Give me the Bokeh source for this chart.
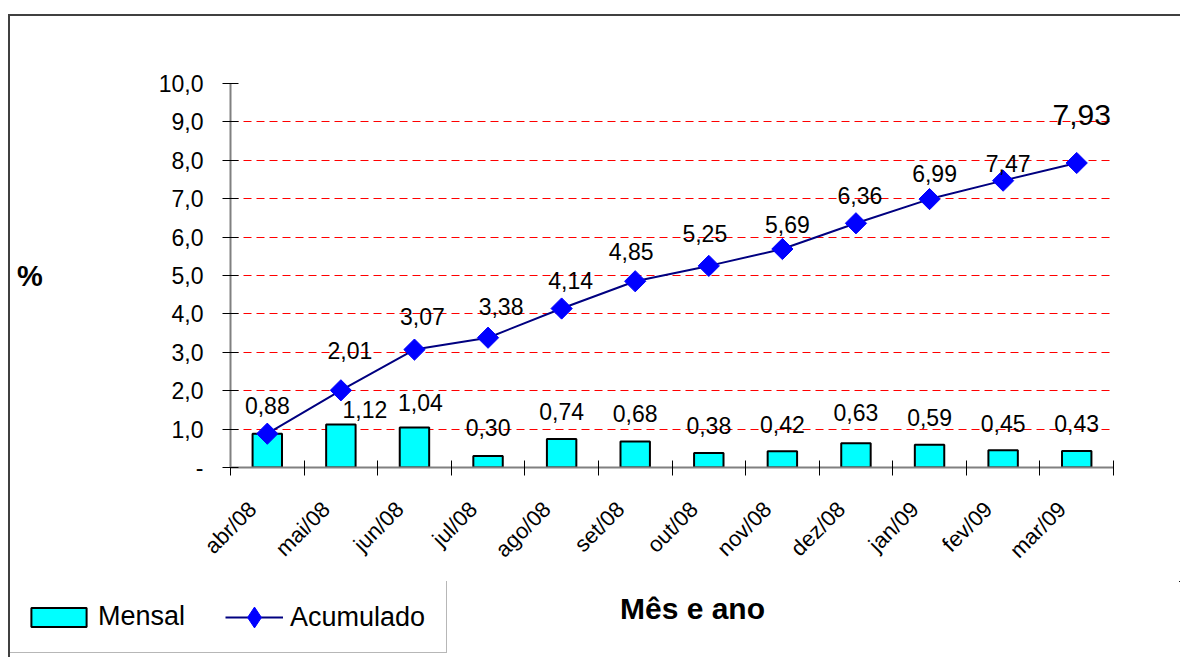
import math
from bokeh.plotting import figure
from bokeh.layouts import column
from bokeh.models import (FixedTicker, CustomJSTickFormatter, Legend,
                          LegendItem, Range1d, ColumnDataSource, Label)
from bokeh.core.properties import value
from bokeh.embed import file_html
from bokeh.resources import INLINE

# ---------------- data ----------------
months = ["abr/08", "mai/08", "jun/08", "jul/08", "ago/08", "set/08",
          "out/08", "nov/08", "dez/08", "jan/09", "fev/09", "mar/09"]
mensal = [0.88, 1.12, 1.04, 0.30, 0.74, 0.68, 0.38, 0.42, 0.63, 0.59, 0.45, 0.43]
acumulado = [0.88, 2.01, 3.07, 3.38, 4.14, 4.85, 5.25, 5.69, 6.36, 6.99, 7.47, 7.93]
y_ticks = [0, 1, 2, 3, 4, 5, 6, 7, 8, 9, 10]

# ---------------- label placement (style) ----------------
bar_lab_dx = [0, 24, 6, 0, 0, 0, 0, 0, 0, 0, 0, 0]
bar_lab_dy = [-28, -15, -25, -28, -28, -28, -27, -27, -31, -27, -27, -27]
acu_lab_dx = [0, 9, 8, 13, 9, -4, -4, 5, 4, 5, 5, 5]
acu_lab_dy = [-28, -40, -33, -31, -28, -30, -32, -25, -28, -26, -17, -48]
acu_lab_size = ["23px"] * 11 + ["30px"]
XLABEL_SHIFT = -0.2   # category-label anchor shift (in category widths)

FONT = "Liberation Sans"
BAR_STYLE = dict(width=0.4, bottom=0, fill_color="#00FFFF", line_color="black", line_width=2)
LINE_STYLE = dict(line_color="#000080", line_width=2)
MARK_STYLE = dict(fill_color="#0000FF", line_color="#0000FF")

def fmt(v):
    return f"{v:.2f}".replace(".", ",")

def no_frame_align(fig):
    if "frame_align" in fig.properties():
        fig.frame_align = False

xc = [i + 0.5 for i in range(len(months))]

# ---------------- main chart ----------------
p = figure(width=1170, height=565,
           x_range=Range1d(0, len(months)), y_range=Range1d(y_ticks[0], y_ticks[-1]),
           output_backend="svg", toolbar_location=None,
           min_border_left=220, min_border_right=67,
           min_border_top=67, min_border_bottom=114,
           background_fill_color="white", border_fill_color="white",
           outline_line_color=None)
no_frame_align(p)

p.xgrid.visible = False
p.ygrid.ticker = FixedTicker(ticks=y_ticks[1:])
p.ygrid.grid_line_color = "#FF0000"
p.ygrid.grid_line_dash = "8 5"
p.ygrid.grid_line_width = 1

yax = p.yaxis[0]
yax.ticker = FixedTicker(ticks=y_ticks)
yax.formatter = CustomJSTickFormatter(
    code="return tick == 0 ? '-' : tick.toFixed(1).replace('.', ',');")
yax.axis_line_color = "#808080"
yax.axis_line_width = 2
yax.major_tick_in = 8
yax.major_tick_out = 8
yax.major_tick_line_color = "black"
yax.minor_tick_line_color = None
yax.major_label_text_font = FONT
yax.major_label_text_font_size = "23px"
yax.major_label_text_color = "black"
yax.major_label_standoff = 19
yax.axis_label = "%"
yax.axis_label_orientation = "horizontal"
yax.axis_label_text_font = FONT
yax.axis_label_text_font_size = "29px"
yax.axis_label_text_font_style = "bold"
yax.axis_label_text_color = "black"
yax.axis_label_standoff = 113

xax = p.xaxis[0]
xax.ticker = FixedTicker(ticks=[x + XLABEL_SHIFT for x in xc],
                         minor_ticks=list(range(len(months) + 1)))
xax.formatter = CustomJSTickFormatter(args=dict(labels=months),
                                      code="return labels[Math.round(tick - 0.5)];")
xax.axis_line_color = "#808080"
xax.axis_line_width = 2
xax.major_tick_line_color = None
xax.major_tick_in = 0
xax.major_tick_out = 0
xax.minor_tick_line_color = "black"
xax.minor_tick_in = 7
xax.minor_tick_out = 8
xax.major_label_orientation = math.pi / 4
xax.major_label_text_font = FONT
xax.major_label_text_font_size = "22px"
xax.major_label_text_color = "black"
xax.major_label_standoff = 30

bars = p.vbar(x=xc, top=mensal, **BAR_STYLE)
line = p.line(x=xc, y=acumulado, **LINE_STYLE)
pts = p.scatter(x=xc, y=acumulado, marker="square", angle=math.pi / 4, size=15, **MARK_STYLE)

bar_src = ColumnDataSource(dict(x=xc, y=mensal, t=[fmt(v) for v in mensal],
                                dx=bar_lab_dx, dy=bar_lab_dy))
p.text(x="x", y="y", text="t", x_offset="dx", y_offset="dy", source=bar_src,
       text_font=value(FONT), text_font_size="23px", text_color="black",
       text_align="center", text_baseline="middle")

acu_src = ColumnDataSource(dict(x=xc[1:], y=acumulado[1:],
                                t=[fmt(v) for v in acumulado[1:]],
                                dx=acu_lab_dx[1:], dy=acu_lab_dy[1:],
                                fs=acu_lab_size[1:]))
p.text(x="x", y="y", text="t", x_offset="dx", y_offset="dy", source=acu_src,
       text_font=value(FONT), text_font_size="fs", text_color="black",
       text_align="center", text_baseline="middle")

# ---------------- bottom strip: legend and x title ----------------
p2 = figure(width=1170, height=76,
            x_range=Range1d(-100, -99), y_range=Range1d(-100, -99),
            output_backend="svg", toolbar_location=None,
            x_axis_location=None, y_axis_location=None,
            min_border=0, min_border_left=0, min_border_right=0,
            min_border_top=0, min_border_bottom=0,
            background_fill_color="white", border_fill_color="white",
            outline_line_color=None)
no_frame_align(p2)
p2.xgrid.visible = False
p2.ygrid.visible = False
# legend proxies (same series, scrolled out of this strip's view)
lb = p2.vbar(x=xc, top=mensal, **BAR_STYLE)
ll = p2.line(x=xc, y=acumulado, **LINE_STYLE)
lp = p2.scatter(x=xc, y=acumulado, marker="diamond", size=15, **MARK_STYLE)

leg_a = Legend(items=[LegendItem(label="Mensal", renderers=[lb])],
               location=(-7, 4), orientation="horizontal",
               glyph_width=69, glyph_height=24, label_standoff=5, label_width=328,
               label_text_font=FONT, label_text_font_size="27px",
               label_text_color="black", padding=20, margin=0,
               border_line_color="#707070", border_line_width=1.5,
               background_fill_color="white", background_fill_alpha=1)
leg_b = Legend(items=[LegendItem(label="Acumulado", renderers=[ll, lp])],
               location=(215, 14), orientation="horizontal",
               glyph_width=58, glyph_height=52, label_standoff=7,
               label_text_font=FONT, label_text_font_size="27px",
               label_text_color="black", padding=0, margin=0,
               border_line_color=None, background_fill_alpha=0)
p2.add_layout(leg_a)
p2.add_layout(leg_b)

p2.add_layout(Label(x=682, y=49, x_units="screen", y_units="screen", text="Mês e ano",
                    text_font=FONT, text_font_size="30px", text_font_style="bold",
                    text_align="center", text_baseline="middle", text_color="black"))

page = column(p, p2, spacing=0)
page.styles = {"margin-left": "8px", "margin-top": "14px",
               "border-left": "2px solid #404040", "border-top": "2px solid #404040"}

open("out.html", "w").write(file_html(page, INLINE))
